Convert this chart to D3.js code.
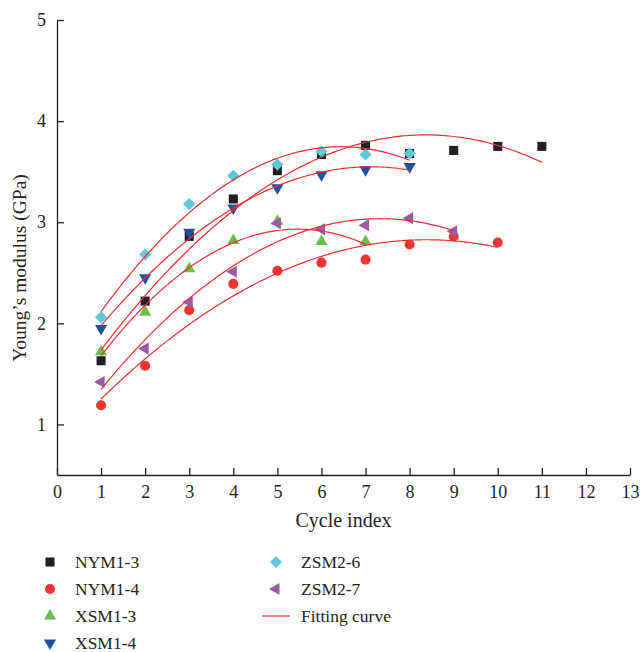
<!DOCTYPE html>
<html>
<head>
<meta charset="utf-8">
<script src="https://cdn.jsdelivr.net/npm/d3@7"></script>
<style>
  body { margin: 0; background: #fff; }
  text { font-family: "Liberation Serif", "DejaVu Serif", serif; fill: #231f20; }
</style>
</head>
<body>
<svg class="chart"></svg>
<script>
// values, cycle index starts at 1
var seriesNames = ["NYM1-3", "NYM1-4", "XSM1-3", "XSM1-4", "ZSM2-6", "ZSM2-7"];
var nym13 = [1.63, 2.22, 2.86, 3.23, 3.51, 3.67, 3.76, 3.68, 3.71, 3.75, 3.75];
var nym14 = [1.19, 1.58, 2.13, 2.39, 2.52, 2.60, 2.63, 2.78, 2.86, 2.80];
var xsm13 = [1.72, 2.11, 2.54, 2.82, 3.01, 2.81, 2.81];
var xsm14 = [1.95, 2.45, 2.90, 3.14, 3.34, 3.47, 3.52, 3.55];
var zsm26 = [2.06, 2.68, 3.18, 3.46, 3.57, 3.70, 3.67, 3.68];
var zsm27 = [1.42, 1.75, 2.21, 2.51, 2.99, 2.93, 2.97, 3.04, 2.91];
var xTicks = d3.range(0, 14);
var yTicks = [1, 2, 3, 4, 5];

var allValues = [nym13, nym14, xsm13, xsm14, zsm26, zsm27];
var colors = ["#231f20", "#ee3431", "#6cbe4c", "#1f4f9f", "#5ec8d8", "#9b59a6"];
var fitColor = "#ee2c2c";

var width = 641, height = 652;
var margin = {top: 20, right: 11, bottom: 177, left: 57};

var svg = d3.select(".chart")
    .attr("width", width)
    .attr("height", height);

var x = d3.scaleLinear()
    .domain([0, 13])
    .range([margin.left, width - margin.right]);

var y = d3.scaleLinear()
    .domain([0.5, 5])
    .range([height - margin.bottom, margin.top]);

// marker shapes
function marker(i) {
  var sym, size = 72, rot = 0;
  if (i == 0) { sym = d3.symbolSquare; size = 82; }
  if (i == 1) { sym = d3.symbolCircle; size = 80; }
  if (i == 2) { sym = d3.symbolTriangle; size = 64; }
  if (i == 3) { sym = d3.symbolTriangle; size = 64; rot = 180; }
  if (i == 4) { sym = d3.symbolSquare; size = 74; rot = 45; }
  if (i == 5) { sym = d3.symbolTriangle; size = 64; rot = -90; }
  return {path: d3.symbol().type(sym).size(size)(), rot: rot};
}

// least squares quadratic fit
function quadFit(vals) {
  var n = vals.length, s = [0, 0, 0, 0, 0], t = [0, 0, 0];
  vals.forEach(function(v, i) {
    var xi = i + 1;
    for (var k = 0; k < 5; k++) s[k] += Math.pow(xi, k);
    for (var k = 0; k < 3; k++) t[k] += v * Math.pow(xi, k);
  });
  var m = [[s[0], s[1], s[2], t[0]], [s[1], s[2], s[3], t[1]], [s[2], s[3], s[4], t[2]]];
  for (var c = 0; c < 3; c++) {
    for (var r = c + 1; r < 3; r++) {
      var f = m[r][c] / m[c][c];
      for (var k = c; k < 4; k++) m[r][k] -= f * m[c][k];
    }
  }
  var b = [0, 0, 0];
  for (var r = 2; r >= 0; r--) {
    var sum = m[r][3];
    for (var k = r + 1; k < 3; k++) sum -= m[r][k] * b[k];
    b[r] = sum / m[r][r];
  }
  return function(xv) { return b[0] + b[1] * xv + b[2] * xv * xv; };
}

// axes
var xAxis = g => g
    .attr("transform", "translate(0," + (height - margin.bottom) + ")")
    .call(d3.axisBottom(x).tickValues(xTicks).tickFormat(d3.format("d")).tickSizeInner(-7).tickSizeOuter(0).tickPadding(10))
    .call(g => g.selectAll(".tick text").attr("font-size", 18).attr("font-family", null))
    .call(g => g.selectAll("line, path").attr("stroke", "#231f20").attr("stroke-width", 1.3));

var yAxis = g => g
    .attr("transform", "translate(" + margin.left + ",0)")
    .call(d3.axisLeft(y).tickValues(yTicks).tickFormat(d3.format("d")).tickSizeInner(-7).tickSizeOuter(0).tickPadding(11))
    .call(g => g.selectAll(".tick text").attr("font-size", 18).attr("font-family", null))
    .call(g => g.selectAll("line, path").attr("stroke", "#231f20").attr("stroke-width", 1.3));

svg.append("g").call(xAxis);
svg.append("g").call(yAxis);

// points
allValues.forEach(function(vals, i) {
  var m = marker(i);
  svg.append("g").selectAll("path")
      .data(vals)
    .enter().append("path")
      .attr("d", m.path)
      .attr("fill", colors[i])
      .attr("transform", (d, j) => "translate(" + x(j + 1) + "," + y(d) + ") rotate(" + m.rot + ")");
});

// fitting curves
var line = d3.line()
    .x(d => x(d[0]))
    .y(d => y(d[1]));

allValues.forEach(function(vals) {
  var f = quadFit(vals);
  var pts = d3.range(1, vals.length + 0.001, 0.05).map(xv => [xv, f(xv)]);
  svg.append("path")
      .datum(pts)
      .attr("d", line)
      .attr("fill", "none")
      .attr("stroke", fitColor)
      .attr("stroke-width", 1.2);
});

// axis titles
svg.append("text")
    .attr("x", x(6.5))
    .attr("y", 527)
    .attr("text-anchor", "middle")
    .attr("font-size", 20)
    .text("Cycle index");

svg.append("text")
    .attr("transform", "translate(26,268) rotate(-90)")
    .attr("text-anchor", "middle")
    .attr("font-size", 19.5)
    .text("Young\u2019s modulus (GPa)");

// legend
var legendItems = seriesNames.map((name, i) => ({name: name, i: i}))
    .concat([{name: "Fitting curve", i: -1}]);

var legend = svg.append("g").selectAll("g")
    .data(legendItems)
  .enter().append("g")
    .attr("transform", function(d, k) {
      var col = k < 4 ? 0 : 1, row = k < 4 ? k : k - 4;
      return "translate(" + (col == 0 ? 50 : 276) + "," + (562 + row * 27) + ")";
    });

legend.each(function(d) {
  var g = d3.select(this);
  if (d.i >= 0) {
    var m = marker(d.i);
    g.append("path")
        .attr("d", m.path)
        .attr("fill", colors[d.i])
        .attr("transform", "rotate(" + m.rot + ")");
  } else {
    g.append("line")
        .attr("x1", -14).attr("x2", 14)
        .attr("stroke", fitColor)
        .attr("stroke-width", 1.2);
  }
  g.append("text")
      .attr("x", 25)
      .attr("dy", "0.35em")
      .attr("font-size", 17.5)
      .text(d.name);
});
</script>
</body>
</html>
